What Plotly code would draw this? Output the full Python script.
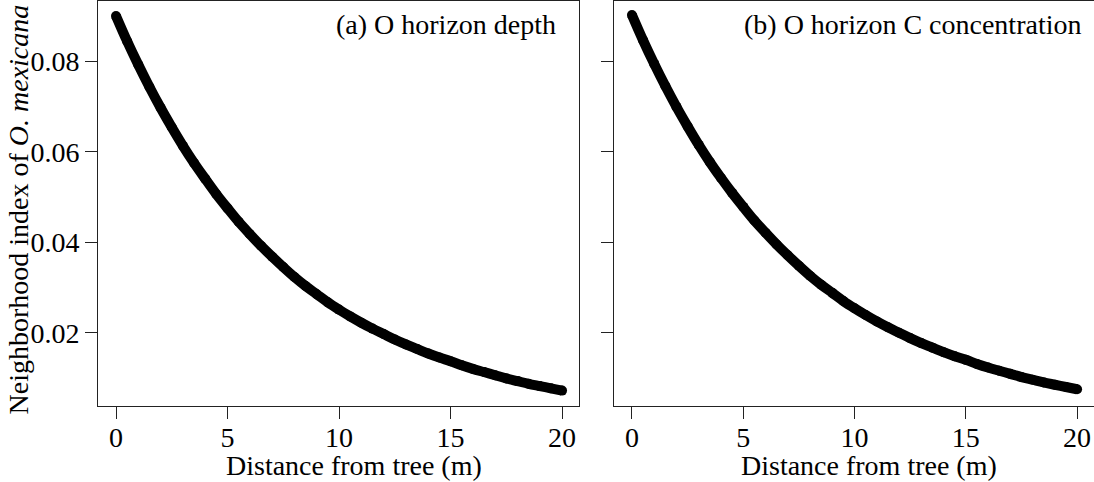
import plotly.graph_objects as go

# Distance from tree (m) and neighborhood index values for the two panels
distance = [0.0, 0.5, 1.0, 1.5, 2.0, 2.5, 3.0, 3.5, 4.0, 4.5, 5.0,
            5.5, 6.0, 6.5, 7.0, 7.5, 8.0, 8.5, 9.0, 9.5, 10.0,
            10.5, 11.0, 11.5, 12.0, 12.5, 13.0, 13.5, 14.0, 14.5, 15.0,
            15.5, 16.0, 16.5, 17.0, 17.5, 18.0, 18.5, 19.0, 19.5, 20.0]

index_depth = [0.0900, 0.0844, 0.0792, 0.0743, 0.0697, 0.0654, 0.0613, 0.0575, 0.0540, 0.0506, 0.0475,
               0.0445, 0.0418, 0.0392, 0.0368, 0.0345, 0.0323, 0.0303, 0.0285, 0.0267, 0.0251,
               0.0236, 0.0222, 0.0209, 0.0197, 0.0185, 0.0174, 0.0164, 0.0154, 0.0145, 0.0137,
               0.0128, 0.0120, 0.0113, 0.0106, 0.0099, 0.0093, 0.0087, 0.0082, 0.0077, 0.0072]

index_conc = [0.0902, 0.0846, 0.0794, 0.0745, 0.0699, 0.0656, 0.0615, 0.0577, 0.0542, 0.0509, 0.0478,
              0.0448, 0.0421, 0.0395, 0.0371, 0.0348, 0.0326, 0.0306, 0.0288, 0.0270, 0.0254,
              0.0239, 0.0225, 0.0212, 0.0200, 0.0188, 0.0177, 0.0167, 0.0157, 0.0148, 0.0140,
              0.0131, 0.0123, 0.0116, 0.0109, 0.0102, 0.0096, 0.0090, 0.0085, 0.0080, 0.0075]

x_ticks = [0, 5, 10, 15, 20]
y_ticks = [0.02, 0.04, 0.06, 0.08]
y_tick_labels = ["0.02", "0.04", "0.06", "0.08"]

panel_titles = ["(a) O horizon depth", "(b) O horizon C concentration"]
x_title = "Distance from tree (m)"
y_title = "Neighborhood index of <i>O. mexicana</i>"

W, H = 1094, 482
FONT = "Liberation Serif, Times New Roman, serif"
FS = 28

fig = go.Figure()

for i, vals in enumerate([index_depth, index_conc]):
    suffix = "" if i == 0 else "2"
    fig.add_trace(go.Scatter(
        x=distance, y=vals, mode="lines+markers",
        line=dict(color="black", width=10, shape="spline"),
        marker=dict(symbol="circle", size=10, color="black",
                    line=dict(width=0)),
        xaxis="x" + suffix, yaxis="y" + suffix, showlegend=False,
        hoverinfo="x+y",
    ))

axis_common = dict(
    showline=True, mirror=True, linecolor="#222222", linewidth=1,
    ticks="outside", ticklen=12, tickwidth=1, tickcolor="#222222",
    showgrid=False, zeroline=False,
    tickfont=dict(family=FONT, size=FS, color="black"),
)

x_range = [-0.807, 20.76]
y_range = [0.0038, 0.0933]
y_dom = [1 - 406 / H, 1 - 1 / H]

fig.update_layout(
    width=W, height=H,
    margin=dict(l=0, r=0, t=0, b=0),
    paper_bgcolor="white", plot_bgcolor="white",
    xaxis=dict(domain=[98 / W, 579 / W], range=x_range, tickvals=x_ticks,
               anchor="y", ticklabelstandoff=-6, **axis_common),
    yaxis=dict(domain=y_dom, range=y_range, tickvals=y_ticks,
               ticktext=y_tick_labels, anchor="x", **axis_common),
    xaxis2=dict(domain=[614 / W, 1.0], range=x_range, tickvals=x_ticks,
                anchor="y2", ticklabelstandoff=-6, **axis_common),
    yaxis2=dict(domain=y_dom, range=y_range, tickvals=y_ticks,
                showticklabels=False, anchor="x2", **axis_common),
    font=dict(family=FONT, size=FS, color="black"),
)

annotations = []
# panel titles, right-aligned inside each frame
for title, right_px in zip(panel_titles, [558, 1083]):
    annotations.append(dict(
        text=title, x=right_px / W, y=1 - 24.5 / H, xref="paper", yref="paper",
        xanchor="right", yanchor="middle", showarrow=False,
        font=dict(family=FONT, size=FS, color="black"),
    ))
# x-axis titles under each panel, sitting on the bottom edge
for cx in [354, 869]:
    annotations.append(dict(
        text=x_title, x=cx / W, y=0, xref="paper", yref="paper",
        xanchor="center", yanchor="bottom", borderpad=0, showarrow=False,
        font=dict(family=FONT, size=FS, color="black"),
    ))
# shared y-axis title
annotations.append(dict(
    text=y_title, x=17.5 / W, y=1 - 210 / H, xref="paper", yref="paper",
    xanchor="center", yanchor="middle", textangle=-90, showarrow=False,
    font=dict(family=FONT, size=FS, color="black"),
))
fig.update_layout(annotations=annotations)

fig.write_html("out.html")
